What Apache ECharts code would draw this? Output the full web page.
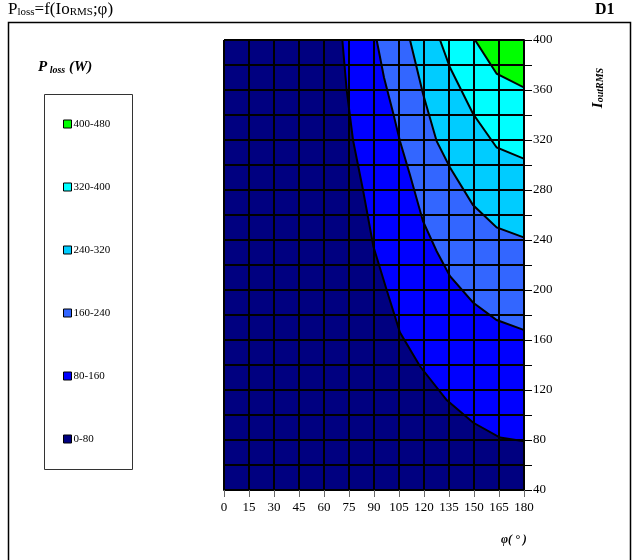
<!DOCTYPE html>
<html><head><meta charset="utf-8">
<script src="https://cdn.jsdelivr.net/npm/echarts@6/dist/echarts.min.js"></script>
<style>html,body{margin:0;padding:0;background:#fff}#c{width:641px;height:560px}</style>
</head><body><div id="c"></div>
<script>
// Data
const phiTicks = [0, 15, 30, 45, 60, 75, 90, 105, 120, 135, 150, 165, 180];
const currentTicks = [40, 80, 120, 160, 200, 240, 280, 320, 360, 400];
const levels = ['0-80', '80-160', '160-240', '240-320', '320-400', '400-480'];
const levelColors = ['#000080', '#0000ff', '#3366ff', '#00ccff', '#00ffff', '#00ff00'];
// contour boundaries [phi, I] (from top edge to right edge)
const iso80 = [[71, 400], [73.6, 360], [77.4, 320], [83.4, 280], [89.6, 235], [97.6, 200], [105.6, 166], [117.6, 139], [133.6, 112], [149.4, 94], [165.6, 82], [180, 79]];
const iso160 = [[91.6, 400], [96, 370], [101.6, 341], [105.6, 319], [111.6, 292], [119.4, 255], [127.6, 231], [135.6, 211], [149.4, 190], [163.6, 176], [180, 168]];
const iso240 = [[111.6, 400], [115.6, 378], [119.4, 357], [127.6, 319], [135.6, 298], [149.4, 268], [163.6, 250], [180, 242]];
const iso320 = [[129.6, 400], [135.6, 378], [149.4, 341], [163.6, 314], [180, 305]];
const iso400 = [[150.6, 400], [163.6, 373], [180, 362]];
const fullArea = [[0, 40], [180, 40], [180, 400], [0, 400]];

const boundaries = [fullArea, iso80, iso160, iso240, iso320, iso400];
const serif = 'Liberation Serif';

function renderer(pts, closeCorner) {
  return function (params, api) {
    const poly = pts.map(p => api.coord(p));
    if (closeCorner) poly.push(api.coord([180, 400]));
    return {
      type: 'polygon',
      shape: { points: poly },
      style: { fill: api.visual('color'), stroke: '#000', lineWidth: 2 }
    };
  };
}

const series = levels.map((name, i) => ({
  name: name,
  type: 'custom',
  z: 1,
  clip: true,
  itemStyle: { color: levelColors[i] },
  renderItem: renderer(boundaries[i], i > 0),
  data: [0]
}));

const chart = echarts.init(document.getElementById('c'), null, { renderer: 'canvas' });
chart.setOption({
  animation: false,
  backgroundColor: '#fff',
  textStyle: { fontFamily: serif },
  grid: { left: 224, right: 117, top: 40, bottom: 70, containLabel: false },
  xAxis: {
    type: 'value', min: 0, max: 180, interval: 15, z: 5,
    axisLine: { show: true, onZero: false, lineStyle: { color: '#000', width: 2 } },
    axisTick: { show: true, length: 7, lineStyle: { color: '#666', width: 1 } },
    axisLabel: { color: '#000', fontFamily: serif, fontSize: 13, margin: 11,
      formatter: v => phiTicks.includes(v) ? String(v) : '' },
    splitLine: { show: true, lineStyle: { color: '#000', width: 2 } }
  },
  yAxis: {
    type: 'value', position: 'right', min: 40, max: 400, interval: 20, z: 5,
    axisLine: { show: true, onZero: false, lineStyle: { color: '#000', width: 2 } },
    axisTick: { show: true, length: 8, lineStyle: { color: '#000', width: 1 } },
    axisLabel: { color: '#000', fontFamily: serif, fontSize: 13, margin: 9,
      formatter: v => currentTicks.includes(v) ? String(v) : '' },
    splitLine: { show: true, lineStyle: { color: '#000', width: 2 } }
  },
  legend: {
    data: levels.slice().reverse(),
    orient: 'vertical', left: 63, top: 117, padding: 0,
    icon: 'rect', itemWidth: 8, itemHeight: 8, itemGap: 49,
    itemStyle: { borderColor: '#000', borderWidth: 1 },
    textStyle: { fontFamily: serif, fontSize: 11, color: '#000', lineHeight: 14, padding: [0, 0, 0, -3] },
    selectedMode: false
  },
  graphic: [
    { type: 'polyline', z: -1, shape: { points: [[8.5, 560], [8.5, 22.5], [630.5, 22.5], [630.5, 560]] }, style: { fill: 'none', stroke: '#000', lineWidth: 1.5 } },
    { type: 'rect', z: -1, shape: { x: 44.5, y: 94.5, width: 88, height: 375 }, style: { fill: 'none', stroke: '#333', lineWidth: 1 } },
    { type: 'text', left: 8, top: 1, style: {
      text: '{n|P}{s|loss}{n|=f(Io}{s|RMS}{n|;φ)}',
      rich: { n: { fontFamily: serif, fontSize: 17, color: '#000', verticalAlign: 'bottom' },
              s: { fontFamily: serif, fontSize: 11, color: '#000', padding: [6, 0, 0, 0], verticalAlign: 'bottom' } } } },
    { type: 'text', left: 595, top: 2, style: { text: 'D1', font: 'bold 16px "Liberation Serif"', fill: '#000' } },
    { type: 'text', left: 38, top: 60, style: {
      text: '{n|P}{s| loss}{n| (W)}',
      rich: { n: { fontFamily: serif, fontSize: 15, fontWeight: 'bold', fontStyle: 'italic', color: '#000', verticalAlign: 'bottom' },
              s: { fontFamily: serif, fontSize: 10, fontWeight: 'bold', fontStyle: 'italic', color: '#000', padding: [5, 0, 0, 0], verticalAlign: 'bottom' } } } },
    { type: 'text', x: 598, y: 88, rotation: Math.PI / 2, style: {
      text: '{n|I}{s|outRMS}', align: 'center', verticalAlign: 'middle',
      rich: { n: { fontFamily: serif, fontSize: 15, fontWeight: 'bold', fontStyle: 'italic', color: '#000', verticalAlign: 'bottom' },
              s: { fontFamily: serif, fontSize: 10, fontWeight: 'bold', fontStyle: 'italic', color: '#000', padding: [5, 0, 0, 0], verticalAlign: 'bottom' } } } },
    { type: 'text', left: 501, top: 534, style: { text: 'φ( ° )', font: 'bold italic 12px "Liberation Serif"', fill: '#000' } }
  ],
  series: series
});
</script></body></html>
